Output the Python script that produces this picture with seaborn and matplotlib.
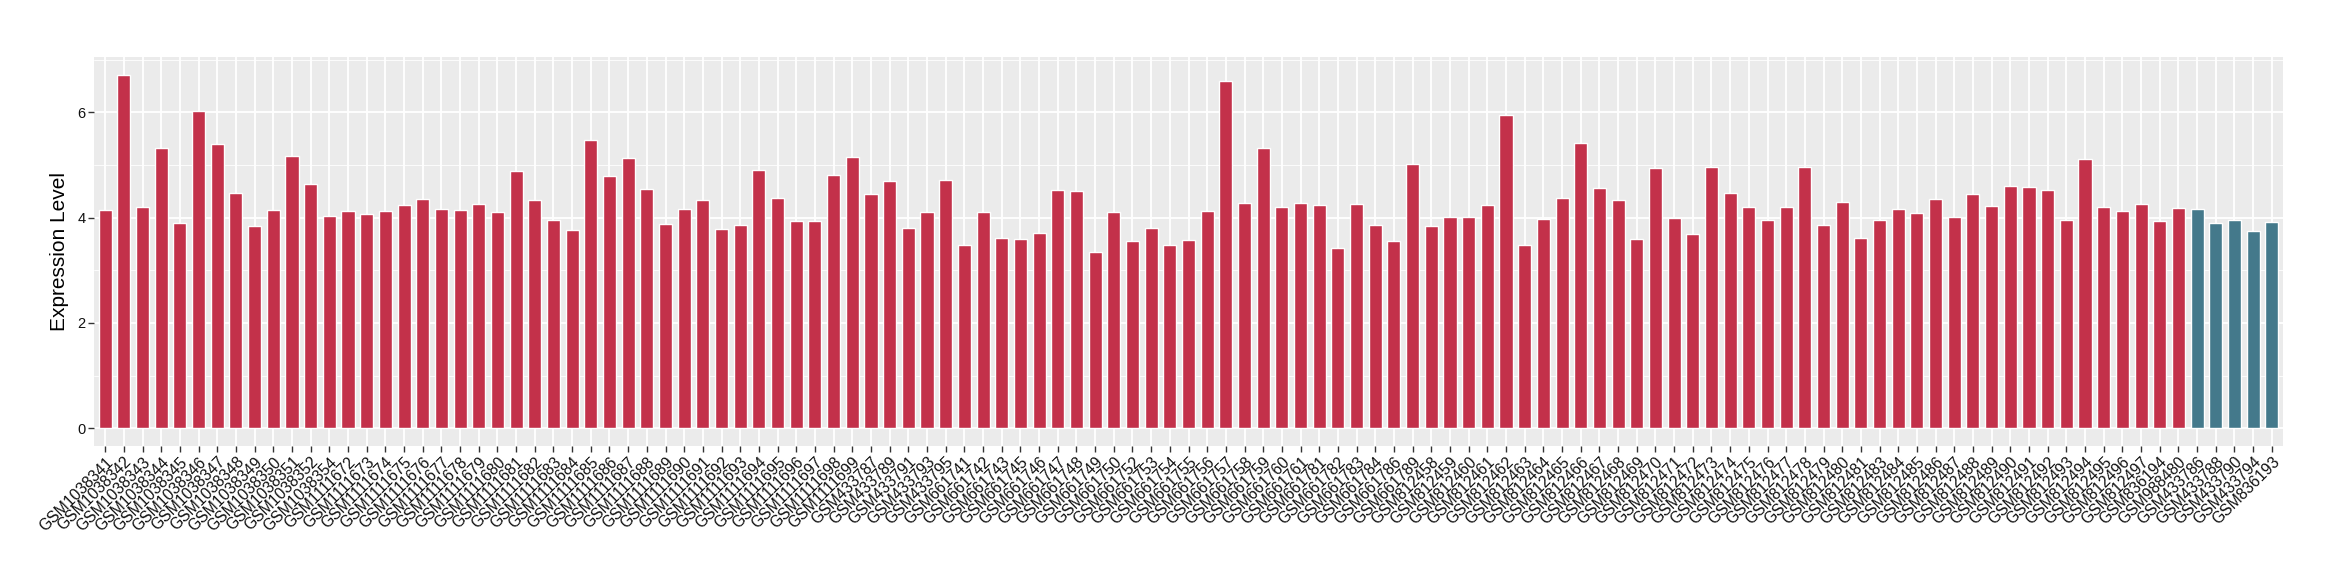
import matplotlib
matplotlib.use("Agg")
import matplotlib.pyplot as plt
import seaborn as sns
import pandas as pd
from matplotlib.ticker import MultipleLocator

samples = (
    ["GSM1038341", "GSM1038342", "GSM1038343", "GSM1038344", "GSM1038345", "GSM1038346",
     "GSM1038347", "GSM1038348", "GSM1038349", "GSM1038350", "GSM1038351", "GSM1038352",
     "GSM1038354"]
    + ["GSM%d" % n for n in range(1111672, 1111700)]
    + ["GSM433787", "GSM433789", "GSM433791", "GSM433793", "GSM433795"]
    + ["GSM661741", "GSM661742", "GSM661743", "GSM661745", "GSM661746", "GSM661747",
       "GSM661748", "GSM661749", "GSM661750", "GSM661752", "GSM661753", "GSM661754",
       "GSM661755", "GSM661756", "GSM661757", "GSM661758", "GSM661759", "GSM661760",
       "GSM661761", "GSM661781", "GSM661782", "GSM661783", "GSM661784", "GSM661786",
       "GSM661789"]
    + ["GSM%d" % n for n in range(812458, 812482)]
    + ["GSM%d" % n for n in range(812483, 812498)]
    + ["GSM836194", "GSM988480"]
    + ["GSM433786", "GSM433788", "GSM433790", "GSM433794", "GSM836193"]
)

values = [
    4.15, 6.71, 4.20, 5.32, 3.90, 6.03, 5.40, 4.47, 3.84, 4.15, 5.17, 4.64, 4.03,
    4.13, 4.07, 4.13, 4.24, 4.35, 4.16, 4.15, 4.26, 4.11, 4.89, 4.34, 3.96, 3.77,
    5.47, 4.79, 5.13, 4.54, 3.88, 4.16, 4.34, 3.78, 3.86, 4.91, 4.37, 3.94, 3.94,
    4.81, 5.15,
    4.45, 4.70, 3.80, 4.11, 4.72,
    3.48, 4.11, 3.61, 3.59, 3.71, 4.53, 4.51, 3.35, 4.11, 3.56, 3.80, 3.48, 3.58,
    4.13, 6.59, 4.28, 5.32, 4.20, 4.28, 4.24, 3.42, 4.26, 3.86, 3.56, 5.02,
    3.84, 4.01, 4.01, 4.24, 5.95, 3.48, 3.97, 4.37, 5.42, 4.56, 4.34, 3.59, 4.94,
    3.99, 3.69, 4.96, 4.47, 4.20, 3.96, 4.20, 4.96, 3.86, 4.30, 3.61,
    3.96, 4.16, 4.09, 4.35, 4.01, 4.45, 4.22, 4.60, 4.58, 4.53, 3.96, 5.11, 4.20,
    4.13, 4.26,
    3.94, 4.18,
    4.16, 3.90, 3.96, 3.75, 3.92,
]

groups = ["Tumor"] * 112 + ["Normal"] * 5
palette = {"Tumor": "#C3314A", "Normal": "#44798B"}

df = pd.DataFrame({"Sample": samples, "Expression": values, "Group": groups})

sns.set_theme(style="darkgrid")
plt.rcParams["font.family"] = ["Liberation Sans", "DejaVu Sans"]

fig = plt.figure(figsize=(23.4, 5.8), dpi=100)
ax = fig.add_axes([94 / 2340, 1 - 446 / 580, (2283 - 94) / 2340, (446 - 57) / 580])
ax.set_facecolor("#EBEBEB")

sns.barplot(data=df, x="Sample", y="Expression", hue="Group", palette=palette,
            dodge=False, width=0.7, legend=False, ax=ax, saturation=1, zorder=3)

ax.set_xlim(-0.6, len(samples) - 0.4)
ax.set_ylim(-0.336, 7.05)
ax.yaxis.set_major_locator(MultipleLocator(2))
ax.yaxis.set_minor_locator(MultipleLocator(1))
ax.grid(which="major", axis="both", color="white", linewidth=1.3, zorder=0)
ax.grid(which="minor", axis="y", color="white", linewidth=0.6, zorder=0)
ax.set_axisbelow(True)
for s in ax.spines.values():
    s.set_visible(False)

ax.tick_params(axis="both", which="major", length=4, width=1, color="#333333",
               direction="out", bottom=True, left=True, pad=2)
ax.tick_params(axis="y", which="minor", length=0)
ax.tick_params(axis="y", labelsize=10.5, labelcolor="#111111")
ax.tick_params(axis="x", labelsize=11.3, labelcolor="#111111")
plt.setp(ax.get_xticklabels(), rotation=45, ha="right", va="top", rotation_mode="anchor")

ax.set_xlabel("")
ax.set_ylabel("Expression Level", fontsize=15, color="black", labelpad=6)

fig.savefig("out.png", dpi=100, facecolor="white")
